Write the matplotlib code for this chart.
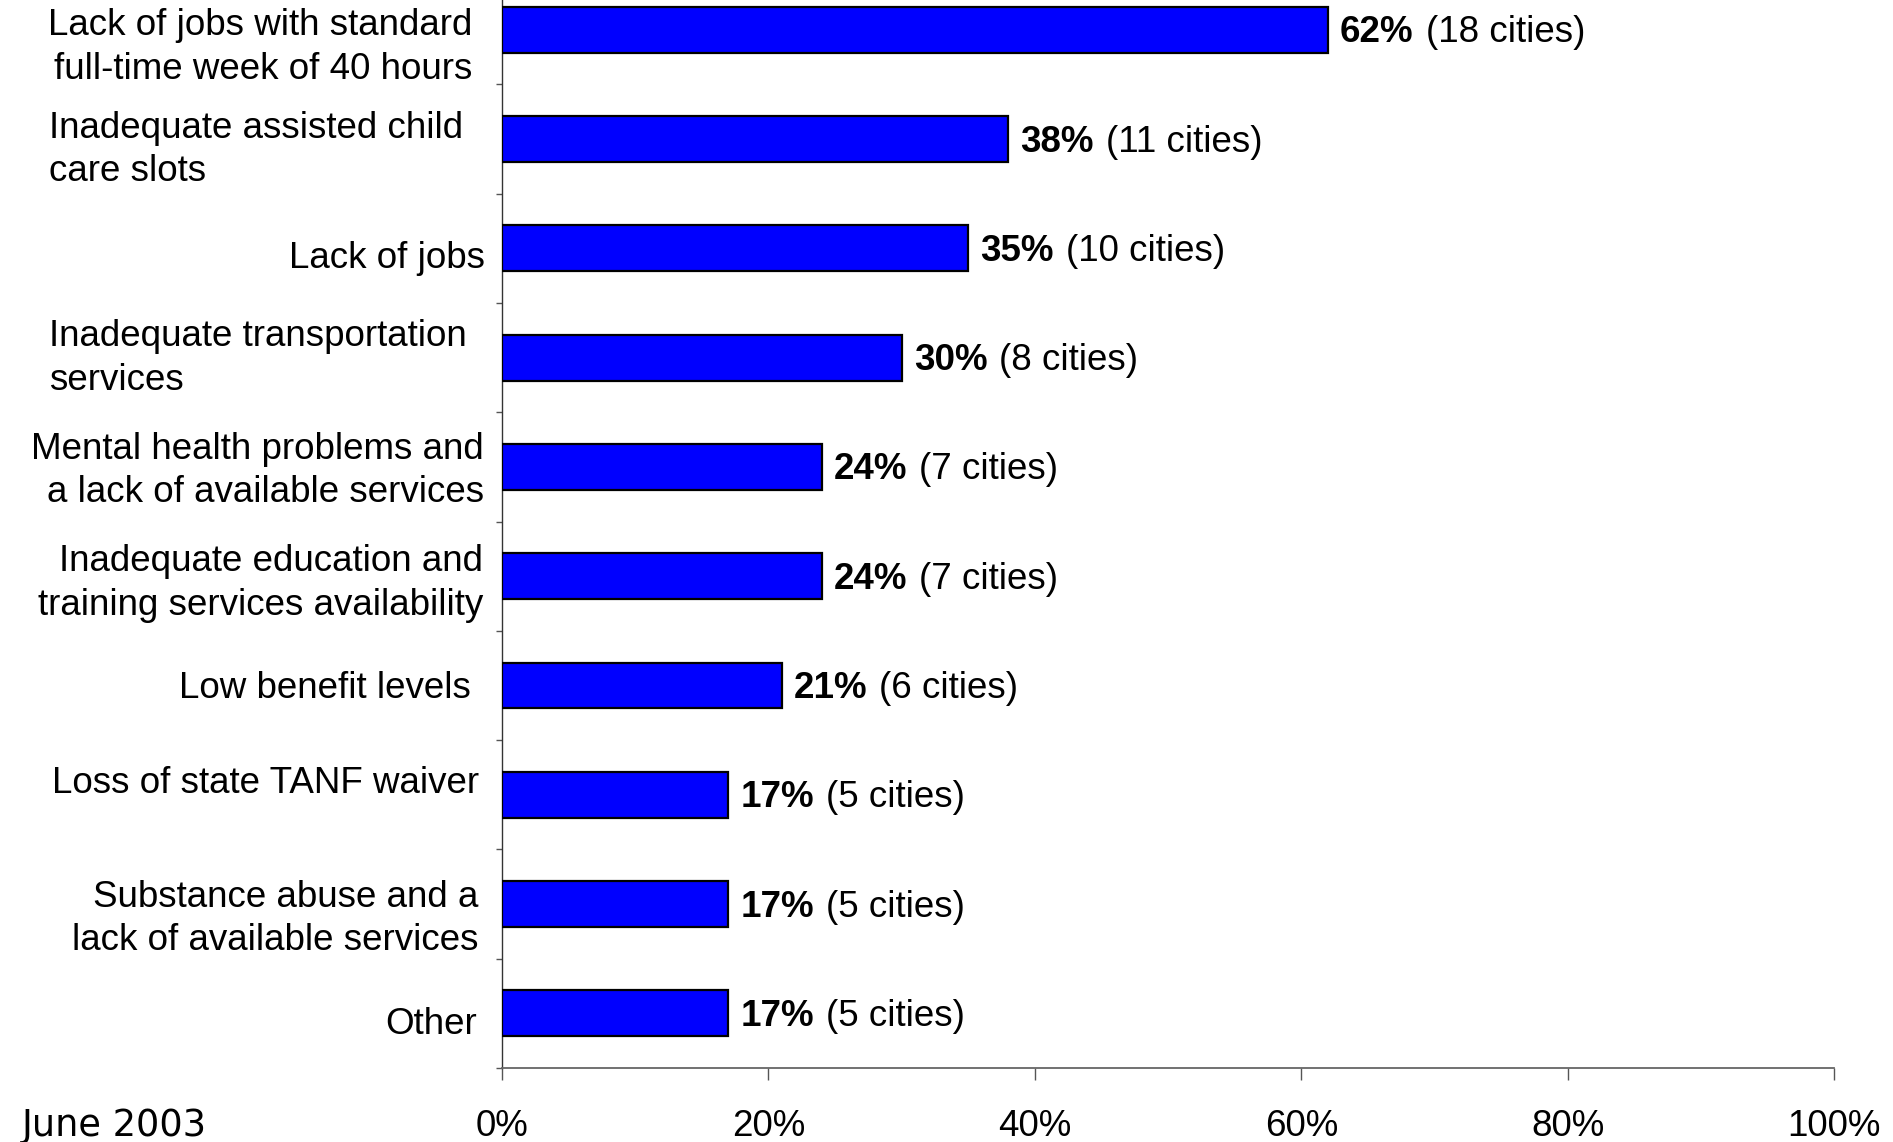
import matplotlib

matplotlib.use("Agg")
import matplotlib.pyplot as plt
from matplotlib.ticker import FixedLocator, FuncFormatter

# Barriers reported by cities, share of cities and city counts
categories = [
    "Lack of jobs with standard\nfull-time week of 40 hours",
    "Inadequate assisted child\ncare slots",
    "Lack of jobs",
    "Inadequate transportation\nservices",
    "Mental health problems and\na lack of available services",
    "Inadequate education and\ntraining services availability",
    "Low benefit levels",
    "Loss of state TANF waiver",
    "Substance abuse and a\nlack of available services",
    "Other",
]
percent = [62, 38, 35, 30, 24, 24, 21, 17, 17, 17]
cities = [18, 11, 10, 8, 7, 7, 6, 5, 5, 5]
x_ticks = [0, 20, 40, 60, 80, 100]

# per-label text layout: line alignment, pixel nudges (x, y)
label_align = ["right", "left", "right", "left", "right", "right", "right", "right", "right", "right"]
label_dx = [-13, -22, 0, -18, -1, -2, -14, -6, -7, -8]
label_dy = [-18, -11, -10, -1, -4, -7, -3, 11, -15, -11]

FS = 26.5
BAR_BLUE = "#0000FF"

plt.rcParams["font.family"] = ["Liberation Sans", "DejaVu Sans"]

fig = plt.figure(figsize=(18.93, 11.42), dpi=100)
fig.patch.set_facecolor("white")
ax = fig.add_axes([0.2652, 0.0648, 0.7037, 0.957])

n = len(categories)
ypos = [n - 1 - i for i in range(n)]
ax.barh(ypos, percent, height=0.42, color=BAR_BLUE, edgecolor="black", linewidth=1.6, zorder=3)

ax.set_xlim(0, 100)
ax.set_ylim(-0.5, n - 0.5)

ax.xaxis.set_major_locator(FixedLocator(x_ticks))
ax.xaxis.set_major_formatter(FuncFormatter(lambda v, _: f"{v:.0f}%"))
ax.tick_params(axis="x", direction="out", length=8.6, width=1.0, color="#555555",
               labelsize=FS, pad=21)
ax.yaxis.set_major_locator(FixedLocator([k - 0.5 for k in range(n + 1)]))
ax.yaxis.set_major_formatter(FuncFormatter(lambda v, _: ""))
ax.tick_params(axis="y", direction="out", length=4.3, width=1.0, color="#555555")

for side in ("top", "right"):
    ax.spines[side].set_visible(False)
ax.spines["left"].set_color("#333333")
ax.spines["left"].set_linewidth(1.0)
ax.spines["bottom"].set_color("#666666")
ax.spines["bottom"].set_linewidth(1.3)

# category labels left of the axis
for y, text, al, dx, dy in zip(ypos, categories, label_align, label_dx, label_dy):
    ax.annotate(text, xy=(0, y), xycoords=("axes fraction", "data"),
                xytext=(-17 + dx, dy), textcoords="offset pixels",
                ha="right", va="center", multialignment=al,
                fontsize=FS, linespacing=1.32, color="black")

# value labels: bold percentage followed by the city count
for y, p, c in zip(ypos, percent, cities):
    t = ax.annotate(f"{p}%", xy=(p, y), xytext=(12, -3), textcoords="offset pixels",
                    ha="left", va="center", fontsize=FS, fontweight="bold")
    ax.annotate(f"({c} cities)", xy=(1, 0.5), xycoords=t, xytext=(12, 0),
                textcoords="offset pixels", ha="left", va="center", fontsize=FS)

fig.text(22 / 1893, 1 - 1126 / 1142, "June 2003", ha="left", va="center",
         fontsize=FS, family=["DejaVu Sans"])

fig.savefig("out.png", dpi=100, facecolor="white")
